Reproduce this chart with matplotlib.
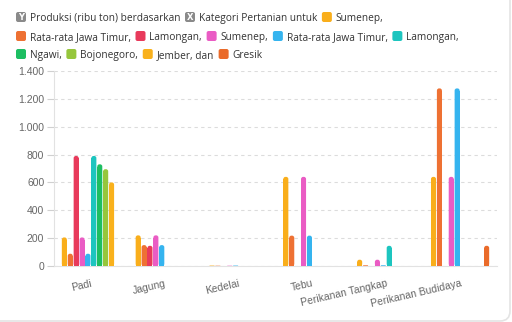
import numpy as np
import matplotlib
matplotlib.use("Agg")
import matplotlib.pyplot as plt
from matplotlib.patches import FancyBboxPatch
from matplotlib.font_manager import FontProperties

nan = np.nan

categories = ["Padi", "Jagung", "Kedelai", "Tebu", "Perikanan Tangkap", "Perikanan Budidaya"]

series_names = [
    "Sumenep,", "Rata-rata Jawa Timur,", "Lamongan,", "Sumenep,", "Rata-rata Jawa Timur,",
    "Lamongan,", "Ngawi,", "Bojonegoro,", "Jember, dan", "Gresik",
]
series_colors = [
    "#F9AE1B", "#EE7133", "#E83A5B", "#EA5CC4", "#35B4EF",
    "#1DC5BF", "#1DBE62", "#96C63C", "#F9B11C", "#EA6B2A",
]

sumenep_a = [205, 220, 3, 640, 45, 640]
rata_a = [88, 150, 2, 218, 5, 1275]
lamongan_a = [790, 145, nan, nan, nan, nan]
sumenep_b = [205, 220, 2, 640, 45, 640]
rata_b = [88, 150, 3, 218, 5, 1275]
lamongan_b = [790, nan, nan, nan, 145, nan]
ngawi = [730, nan, nan, nan, nan, nan]
bojonegoro = [695, nan, nan, nan, nan, nan]
jember = [600, nan, nan, nan, nan, nan]
gresik = [nan, nan, nan, nan, nan, 145]

values = [sumenep_a, rata_a, lamongan_a, sumenep_b, rata_b,
          lamongan_b, ngawi, bojonegoro, jember, gresik]

yticks = [0, 200, 400, 600, 800, 1000, 1200, 1400]
ytick_labels = ["0", "200", "400", "600", "800", "1.000", "1.200", "1.400"]

W, H = 512, 322
fig = plt.figure(figsize=(W / 100, H / 100), dpi=100)
ax = fig.add_axes([54 / W, 1 - 266 / H, (497 - 54) / W, (266 - 71) / H])

x = np.arange(len(categories))
slot = 0.08
bar_w = 0.068
ax.set_xlim(-0.5, len(categories) - 0.5)
ax.set_ylim(0, 1400)

# data units per pixel, used to round the bar tops
ux = (len(categories)) / (497 - 54)
uy = 1400 / (266 - 71)
aspect = uy / ux
r = 2.2 * ux

for i, (vals, col) in enumerate(zip(values, series_colors)):
    bars = ax.bar(x - 0.36 + slot * i, vals, width=bar_w, color=col, linewidth=0, zorder=3)
    for rect in bars:
        h = rect.get_height()
        if not np.isfinite(h) or h <= 0:
            continue
        rr = min(r, h / aspect / 2)
        cap = FancyBboxPatch((rect.get_x(), 0), rect.get_width(), h,
                             boxstyle=f"round,pad=0,rounding_size={rr}",
                             mutation_aspect=aspect, facecolor=col, edgecolor="none", zorder=3)
        ax.add_patch(cap)
        rect.set_height(max(h - rr * aspect, 0))

ax.set_yticks(yticks)
ax.set_yticklabels(ytick_labels)
ax.set_xticks(x)
ax.set_xticklabels(categories, rotation=13, ha="right", rotation_mode="anchor")

ax.grid(axis="y", color="#dcdcdc", linestyle=(0, (3, 3)), linewidth=0.8, zorder=0)
for s in ["top", "right"]:
    ax.spines[s].set_visible(False)
ax.spines["left"].set_color("#e2e2e2")
ax.spines["bottom"].set_color("#e2e2e2")
ax.tick_params(axis="y", length=5, color="#d0d0d0", labelcolor="#666666", pad=2)
ax.tick_params(axis="x", length=0, labelcolor="#666666", pad=9)
tick_font = FontProperties(family="Liberation Sans", stretch="normal", size=7.5)
for lab in ax.get_xticklabels() + ax.get_yticklabels():
    lab.set_fontproperties(tick_font)

# card border
fig.patches.append(FancyBboxPatch((-20, 1), 530, 340, boxstyle="round,pad=0,rounding_size=10",
                                  transform=None, facecolor="none", edgecolor="#e4e4e4",
                                  linewidth=1.2))

# legend laid out in three rows like the original
legend_font = dict(fontsize=7.3, color="#333333", family="Open Sans")
items = [("Y", "#8a8a8a", "Produksi (ribu ton) berdasarkan"),
         ("X", "#8a8a8a", "Kategori Pertanian untuk")]
items += [(None, c, n) for c, n in zip(series_colors, series_names)]
rows = [[0, 1, 2], [3, 4, 5, 6, 7], [8, 9, 10, 11]]
row_y = [17, 36, 54]

renderer = fig.canvas.get_renderer()
for ri, idxs in enumerate(rows):
    xp = 16
    yc = row_y[ri]
    for k in idxs:
        letter, col, label = items[k]
        sq = 10
        fig.patches.append(FancyBboxPatch((xp, H - yc - sq / 2), sq, sq,
                                          boxstyle="round,pad=0,rounding_size=2",
                                          transform=None, facecolor=col, edgecolor="none"))
        if letter:
            fig.text((xp + sq / 2) / W, 1 - yc / H, letter, ha="center", va="center",
                     fontsize=6, color="white", fontweight="bold", family="DejaVu Sans")
        t = fig.text((xp + sq + 4) / W, 1 - yc / H, label, ha="left", va="center_baseline",
                     **legend_font)
        bb = t.get_window_extent(renderer)
        xp = bb.x1 + 4.5

fig.savefig("out.png", dpi=100)
